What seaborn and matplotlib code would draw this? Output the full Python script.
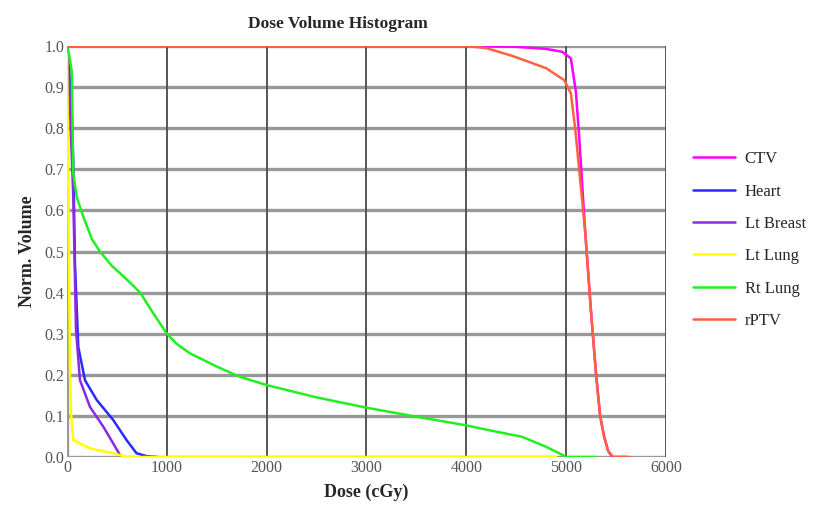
import pandas as pd
import matplotlib
matplotlib.use("Agg")
import matplotlib.pyplot as plt
import seaborn as sns

# Curvas DVH (dose em cGy, volume normalizado)
structures = ["CTV", "Heart", "Lt Breast", "Lt Lung", "Rt Lung", "rPTV"]

ctv_dose = [0, 3500, 4000, 4500, 4800, 4960, 5047, 5097, 5130, 5190, 5250, 5300, 5340, 5380, 5420, 5460, 5610]
ctv_vol = [1, 1, 1, 0.998, 0.993, 0.986, 0.97, 0.89, 0.78, 0.55, 0.35, 0.2, 0.1, 0.05, 0.015, 0.0, 0.0]

heart_dose = [0, 20, 47, 63, 80, 113, 180, 297, 463, 597, 697, 800, 910]
heart_vol = [1, 0.95, 0.845, 0.715, 0.47, 0.268, 0.187, 0.139, 0.09, 0.041, 0.009, 0.002, 0]

breast_dose = [0, 30, 63, 90, 130, 230, 363, 463, 530, 560]
breast_vol = [1, 0.85, 0.633, 0.31, 0.187, 0.122, 0.074, 0.033, 0.005, 0]

ltlung_dose = [0, 15, 30, 40, 63, 230, 463, 597, 4900]
ltlung_vol = [1, 0.6, 0.2, 0.107, 0.041, 0.021, 0.009, 0, 0]

rtlung_dose = [0, 20, 47, 63, 100, 163, 250, 330, 450, 563, 650, 733, 850, 1000, 1100, 1233, 1500, 1733,
               2000, 2500, 3000, 3500, 4000, 4130, 4560, 4797, 4963, 5000, 5300]
rtlung_vol = [1, 0.98, 0.94, 0.69, 0.63, 0.585, 0.53, 0.50, 0.465, 0.44, 0.42, 0.40, 0.355, 0.30, 0.275,
              0.252, 0.22, 0.195, 0.175, 0.145, 0.12, 0.098, 0.077, 0.07, 0.049, 0.025, 0.005, 0, 0]

rptv_dose = [0, 4000, 4200, 4460, 4800, 4980, 5047, 5090, 5130, 5190, 5250, 5300, 5340, 5380, 5420, 5470, 5630]
rptv_vol = [1, 1, 0.995, 0.976, 0.946, 0.917, 0.885, 0.8, 0.7, 0.55, 0.35, 0.2, 0.1, 0.05, 0.015, 0, 0]

cores = {"CTV": "#ff00ff", "Heart": "#2a2aff", "Lt Breast": "#8a2be2",
         "Lt Lung": "#ffff00", "Rt Lung": "#22ee22", "rPTV": "#ff6040"}

series = {
    "CTV": (ctv_dose, ctv_vol),
    "Heart": (heart_dose, heart_vol),
    "Lt Breast": (breast_dose, breast_vol),
    "Lt Lung": (ltlung_dose, ltlung_vol),
    "Rt Lung": (rtlung_dose, rtlung_vol),
    "rPTV": (rptv_dose, rptv_vol),
}

linhas = []
for nome in structures:
    d, v = series[nome]
    for x, y in zip(d, v):
        linhas.append({"dose": x, "volume": y, "estrutura": nome})
df = pd.DataFrame(linhas)

sns.set_theme(style="white")
plt.rcParams["font.family"] = ["Liberation Serif", "DejaVu Serif"]

fig = plt.figure(figsize=(8.2, 5.08), dpi=100)
ax = fig.add_axes([0.0817, 0.1004, 0.7305, 0.809])

sns.lineplot(data=df, x="dose", y="volume", hue="estrutura", hue_order=structures,
             palette=cores, estimator=None, sort=False, linewidth=1.8, ax=ax, zorder=3)

ax.set_xlim(0, 6000)
ax.set_ylim(0, 1.0)
ax.set_xticks(range(0, 6001, 1000))
ax.set_yticks([i / 10 for i in range(11)])
ax.set_yticklabels([f"{i / 10:.1f}" for i in range(11)])

for y in [i / 10 for i in range(11)]:
    ax.axhline(y, color="#999999", linewidth=2.4, zorder=1)
for x in range(1000, 6001, 1000):
    ax.axvline(x, color="#555555", linewidth=1.4, zorder=1.5)

for s in ax.spines.values():
    s.set_visible(False)
ax.axvline(0, color="#999999", linewidth=2.4, zorder=1)

ax.tick_params(length=0, labelsize=11.5, labelcolor="#555555", pad=2)
ax.set_xlabel("Dose (cGy)", fontsize=13, fontweight="bold", labelpad=6)
ax.set_ylabel("Norm. Volume", fontsize=13, fontweight="bold", labelpad=6)
fig.text(0.412, 0.953, "Dose Volume Histogram", ha="center", va="center",
         fontsize=12.5, fontweight="bold")

handles, labels = ax.get_legend_handles_labels()
ax.legend(handles, labels, loc="center left", bbox_to_anchor=(1.02, 0.528),
          frameon=False, fontsize=12, handlelength=2.5, labelspacing=0.98,
          handletextpad=0.6)

fig.savefig("out.png", dpi=100)
